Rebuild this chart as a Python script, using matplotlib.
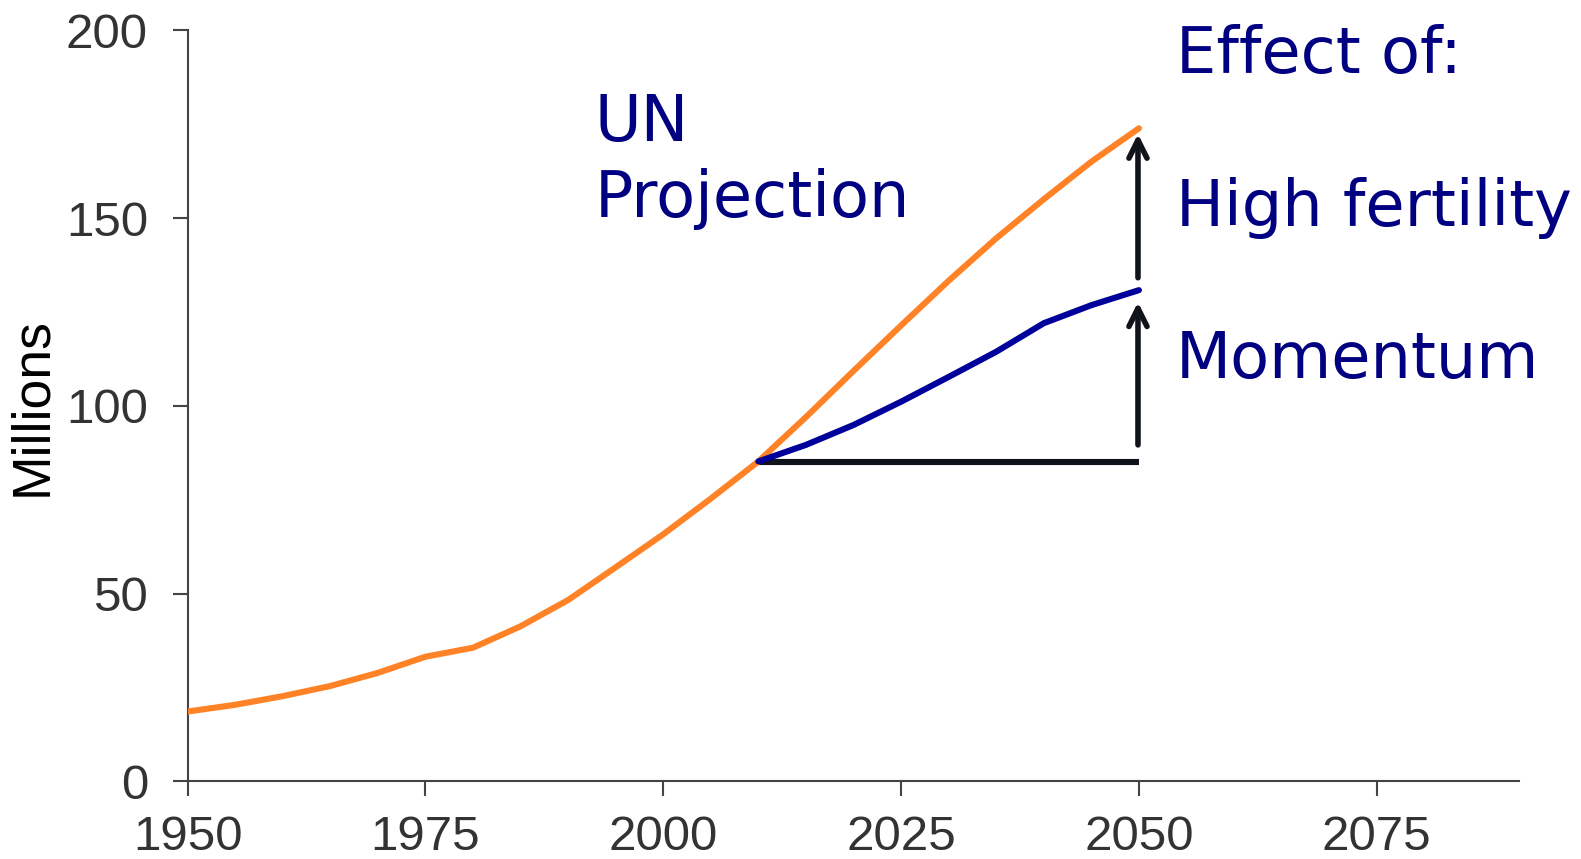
import matplotlib
matplotlib.use("Agg")
import matplotlib.pyplot as plt

# population history + UN projection (millions)
years = [1950, 1955, 1960, 1965, 1970, 1975, 1980, 1985, 1990, 1995, 2000,
         2005, 2010, 2015, 2020, 2025, 2030, 2035, 2040, 2045, 2050]
un_projection = [18.6, 20.4, 22.7, 25.4, 28.9, 33.2, 35.6, 41.3, 48.3, 57.0, 65.8,
                 75.3, 85.2, 97.0, 109.3, 121.4, 133.3, 144.6, 155.0, 165.0, 173.9]

# momentum-only path from 2010
mom_years = [2010, 2015, 2020, 2025, 2030, 2035, 2040, 2045, 2050]
momentum = [85.2, 89.6, 94.9, 101.1, 107.7, 114.4, 122.0, 126.8, 130.8]

base_level = 85.0
x_ticks = [1950, 1975, 2000, 2025, 2050, 2075]
y_ticks = [0, 50, 100, 150, 200]

navy = "#000080"
orange = "#ff8326"
ink = "#10121c"

fig = plt.figure(figsize=(15.81, 8.59), dpi=100)
ax = fig.add_axes([0.1186, 0.0903, 0.8425, 0.8745])

ax.plot(years, un_projection, color=orange, lw=4.4, solid_capstyle="round", zorder=3)
ax.plot(mom_years, momentum, color="#00009a", lw=4.4, solid_capstyle="round", zorder=4)
ax.plot([mom_years[0], mom_years[-1]], [base_level, base_level], color=ink, lw=4.4,
        solid_capstyle="butt", zorder=2)

# arrows showing the two effects
arrow_kw = dict(arrowstyle="->,head_length=1.3,head_width=0.65", color=ink, lw=4,
                shrinkA=0, shrinkB=0, capstyle="round", joinstyle="round")
ax.annotate("", xy=(2049.9, 127.6), xytext=(2049.9, 89.6), arrowprops=arrow_kw)
ax.annotate("", xy=(2049.9, 172.4), xytext=(2049.9, 134.1), arrowprops=arrow_kw)

txt = dict(color=navy, fontsize=46, family="DejaVu Sans", va="baseline", ha="left")
ax.text(1992.8, 170.5, "UN", **txt)
ax.text(1992.8, 150.3, "Projection", **txt)
ax.text(2053.9, 188.7, "Effect of:", **txt)
ax.text(2053.9, 147.9, "High fertility", **txt)
ax.text(2053.9, 107.4, "Momentum", **txt)

ax.set_xlim(1950, 2090)
ax.set_ylim(0, 200)
ax.set_xticks(x_ticks)
ax.set_yticks(y_ticks)
for side in ["top", "right"]:
    ax.spines[side].set_visible(False)
for side in ["left", "bottom"]:
    ax.spines[side].set_color("#444444")
    ax.spines[side].set_linewidth(1.5)
ax.tick_params(length=10.5, width=1.5, color="#444444", pad=14,
               labelsize=35.5, labelcolor="#333333")
ax.tick_params(axis="y", pad=18)
for lab in ax.get_xticklabels() + ax.get_yticklabels():
    lab.set_family("Liberation Sans")

fig.text(32 / 1568, 1 - 403 / 852, "Millions", rotation=90, ha="center", va="center",
         fontsize=38.5, family="Liberation Sans", color="black")

fig.savefig("out.png", dpi=100)
